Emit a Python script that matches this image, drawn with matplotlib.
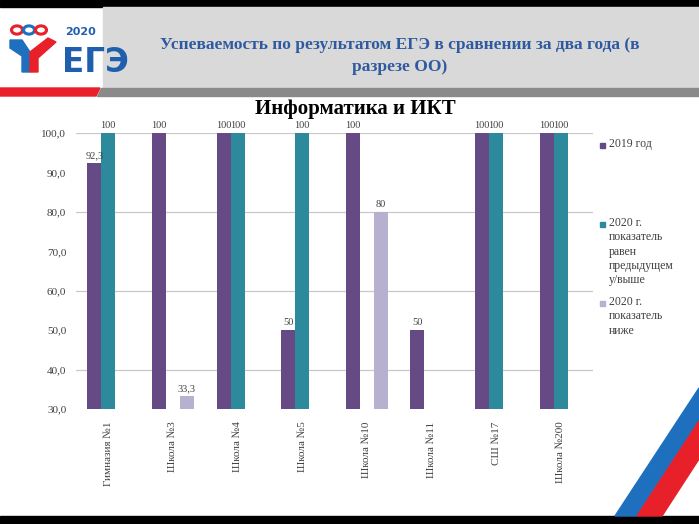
import numpy as np
import matplotlib
matplotlib.use('Agg')
import matplotlib.pyplot as plt
from matplotlib.patches import Rectangle, Polygon, Circle

schools = ['Гимназия №1', 'Школа №3', 'Школа №4', 'Школа №5',
           'Школа №10', 'Школа №11', 'СШ №17', 'Школа №200']
y2019 = [92.3, 100, 100, 50, 100, 50, 100, 100]
y2020_up = [100, np.nan, 100, 100, np.nan, np.nan, 100, 100]
y2020_down = [np.nan, 33.3, np.nan, np.nan, 80, np.nan, np.nan, np.nan]
series_names = ['2019 год',
                '2020 г.\nпоказатель\nравен\nпредыдущем\nу/выше',
                '2020 г.\nпоказатель\nниже']
colors = ['#664a86', '#2d8a9c', '#b8b0cf']

W, H = 699, 524


def px(x, y):
    return (x / W, 1 - y / H)


def fmt(v):
    if v == int(v):
        return str(int(v))
    return f'{v:.1f}'.replace('.', ',')


def main():
    plt.rcParams['font.family'] = ['Liberation Serif', 'DejaVu Serif']
    fig = plt.figure(figsize=(6.99, 5.24), dpi=100)

    # slide decoration
    tf = fig.transFigure
    fig.patches.append(Rectangle(px(0, 7), 1, 7 / H, transform=tf, color='black'))
    fig.patches.append(Rectangle(px(0, 524), 1, 8 / H, transform=tf, color='black'))
    fig.patches.append(Rectangle(px(103, 88), (W - 103) / W, 81 / H, transform=tf,
                                 color='#d9d9d9'))
    fig.patches.append(Polygon([px(0, 88), px(100, 88), px(96, 96), px(0, 96)],
                               transform=tf, color='#e8202a'))
    fig.patches.append(Polygon([px(101, 88), px(699, 88), px(699, 96), px(97, 96)],
                               transform=tf, color='#8a8a8a'))
    # flag stripes
    fig.patches.append(Polygon([px(615, 516), px(699, 388), px(699, 421), px(637, 516)],
                               transform=tf, color='#1f6fbf'))
    fig.patches.append(Polygon([px(637, 516), px(699, 421), px(699, 459), px(662, 516)],
                               transform=tf, color='#e8202a'))

    # logo
    for cx, c in [(17, '#e8202a'), (29, '#1f6fbf'), (41, '#e8202a')]:
        fig.patches.append(Circle(px(cx, 30), 5.5 / W, transform=tf,
                                  facecolor='white', edgecolor=c, lw=2.2))
    fig.patches.append(Polygon([px(10, 40), px(22, 40), px(30, 52), px(30, 72),
                                px(22, 72), px(22, 56), px(10, 48)],
                               transform=tf, color='#1f6fbf'))
    fig.patches.append(Polygon([px(30, 52), px(48, 38), px(56, 42), px(38, 58),
                                px(38, 72), px(30, 72)],
                               transform=tf, color='#e8202a'))
    fig.text(*px(65, 35), '2020', color='#1f5fae', fontsize=8, weight='bold',
             family='DejaVu Sans', va='baseline')
    fig.text(*px(62, 72), 'ЕГЭ', color='#1f5fae', fontsize=23.5, weight='bold',
             family='DejaVu Sans', va='baseline')

    fig.text(*px(400, 45), 'Успеваемость по результатом ЕГЭ в сравнении за два года (в',
             color='#2f5aa0', fontsize=12.5, weight='bold', ha='center', va='center')
    fig.text(*px(400, 67), 'разрезе ОО)', color='#2f5aa0', fontsize=12.5,
             weight='bold', ha='center', va='center')

    # chart
    ax = fig.add_axes([76 / W, 1 - 409 / H, (593 - 76) / W, (409 - 133) / H])
    x = np.arange(len(schools))
    bw = 0.217
    for i, (vals, c) in enumerate(zip([y2019, y2020_up, y2020_down], colors)):
        pos = x + (i - 1) * bw
        ax.bar(pos, vals, width=bw, color=c, bottom=0)
        for p, v in zip(pos, vals):
            if not np.isnan(v):
                ax.text(p, v + 0.8, fmt(v), ha='center', va='bottom',
                        fontsize=7.5, color='#404040')

    ax.set_xlim(-0.5, len(schools) - 0.5)
    ax.set_ylim(30, 100)
    ax.set_yticks(np.arange(30, 101, 10))
    ax.set_yticklabels([f'{v:.1f}'.replace('.', ',') for v in np.arange(30, 101, 10)])
    for g in range(40, 101, 20):
        ax.axhline(g, color='#c8c8c8', lw=0.9, zorder=0)
    ax.set_xticks(x)
    ax.set_xticklabels(schools, rotation=90, va='top')
    ax.tick_params(length=0, labelsize=8, labelcolor='#404040')
    ax.tick_params(axis='y', pad=7)
    ax.tick_params(axis='x', pad=9)
    for s in ax.spines.values():
        s.set_visible(False)
    ax.patch.set_alpha(0)

    fig.text(*px(355, 109), 'Информатика и ИКТ', fontsize=15, weight='bold',
             ha='center', va='center', color='black')

    # legend
    legend_y = [145, 224, 303]
    for name, c, ly in zip(series_names, colors, legend_y):
        fig.patches.append(Rectangle(px(600, ly + 3), 5 / W, 5 / H, transform=tf,
                                     color=c))
        fig.text(*px(609, ly - 7), name, fontsize=8.5, color='#404040',
                 va='top', linespacing=1.25)

    fig.savefig('out.png', dpi=100)


if __name__ == '__main__':
    main()
